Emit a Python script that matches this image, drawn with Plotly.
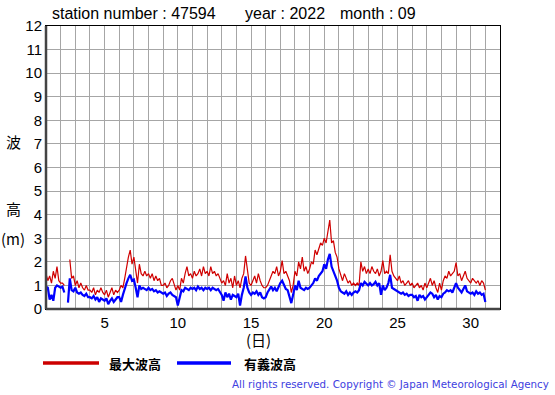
import numpy as np
import plotly.graph_objects as go

nan = float("nan")

# 3-hourly values (hours 0,3,...,21) per day, Sep 1 .. Sep 30, plus end point
max_wave_by_day = [
    [1.5, 1.2, 1.4, 1.1, 1.6, 1.3, 1.8, 1.2],
    [1.1, 1.1, 1.0, nan, nan, 2.1, 1.3, 1.4],
    [1.0, 1.2, 0.9, 1.1, 0.9, 0.8, 1.0, 0.8],
    [0.8, 0.7, 0.9, 0.6, 0.8, 0.7, 0.9, 0.7],
    [0.6, 0.8, 0.5, 0.7, 0.9, 0.6, 0.8, 0.7],
    [0.8, 1.0, 0.9, 1.3, 1.8, 2.2, 2.5, 1.9],
    [2.2, 1.6, 1.1, 1.9, 1.5, 1.4, 1.6, 1.4],
    [1.5, 1.3, 1.5, 1.2, 1.4, 1.2, 1.3, 1.0],
    [1.0, 1.1, 0.9, 1.0, 1.2, 1.3, 1.0, 0.8],
    [1.0, 0.8, 1.3, 1.1, 1.5, 1.8, 1.4, 1.5],
    [1.3, 1.6, 1.4, 1.5, 1.7, 1.4, 1.8, 1.5],
    [1.6, 1.4, 1.8, 1.5, 1.6, 1.4, 1.5, 1.3],
    [1.1, 1.2, 1.0, 1.5, 1.1, 1.3, 0.9, 1.4],
    [1.0, 1.2, 0.9, 1.3, 1.5, 2.25, 1.6, 1.1],
    [1.0, 1.2, 1.4, 1.1, 1.5, 1.2, 1.0, 0.9],
    [0.9, 1.0, 1.2, 1.4, 1.6, 1.5, 1.8, 1.4],
    [1.6, 2.05, 1.5, 1.6, 1.4, 1.2, 0.7, 1.0],
    [1.6, 1.4, 2.0, 1.7, 2.2, 1.6, 1.8, 1.5],
    [1.7, 2.0, 1.9, 2.5, 2.3, 2.6, 2.8, 2.7],
    [3.0, 2.8, 3.35, 3.77, 2.8, 2.9, 2.4, 2.2],
    [1.7, 1.4, 1.2, 1.5, 1.3, 1.1, 1.2, 1.0],
    [1.1, 1.0, 1.1, 1.0, 2.0, 1.6, 1.8, 1.5],
    [1.7, 1.5, 1.8, 1.6, 1.5, 1.7, 1.4, 1.6],
    [2.05, 1.5, 1.6, 1.5, 2.3, 1.6, 1.4, 1.3],
    [1.2, 1.4, 1.1, 1.2, 1.0, 1.1, 1.2, 1.0],
    [1.1, 0.9, 1.0, 1.1, 0.9, 1.0, 0.8, 1.1],
    [0.9, 1.1, 1.3, 1.0, 1.2, 0.9, 0.7, 1.1],
    [0.8, 1.2, 1.4, 1.3, 1.6, 1.4, 1.5, 1.6],
    [1.97, 1.4, 1.5, 1.2, 1.4, 1.6, 1.3, 1.2],
    [1.1, 1.3, 1.2, 1.1, 1.2, 1.0, 1.2, 1.1],
]
max_wave_end = 0.8

sig_wave_by_day = [
    [0.95, 0.9, 0.4, 0.6, 0.35, 0.9, 1.0, 0.95],
    [0.9, 0.95, 0.7, nan, 0.27, 1.3, 0.8, 0.75],
    [0.9, 0.7, 0.65, 0.7, 0.6, 0.55, 0.65, 0.5],
    [0.5, 0.45, 0.55, 0.4, 0.5, 0.3, 0.45, 0.4],
    [0.35, 0.45, 0.2, 0.35, 0.45, 0.3, 0.4, 0.5],
    [0.5, 0.3, 0.6, 0.9, 1.1, 1.3, 1.45, 1.2],
    [1.25, 0.9, 0.5, 1.0, 0.85, 0.9, 0.85, 0.8],
    [0.9, 0.8, 0.85, 0.75, 0.8, 0.7, 0.75, 0.7],
    [0.65, 0.7, 0.55, 0.65, 0.7, 0.6, 0.55, 0.5],
    [0.15, 0.5, 0.8, 0.75, 0.9, 0.85, 0.8, 0.9],
    [0.85, 0.9, 0.8, 0.95, 0.85, 0.9, 0.8, 0.9],
    [0.85, 0.9, 0.8, 0.9, 0.85, 0.8, 0.85, 0.75],
    [0.6, 0.35, 0.7, 0.5, 0.65, 0.4, 0.6, 0.55],
    [0.5, 0.65, 0.15, 0.6, 0.9, 1.38, 0.9, 0.7],
    [0.6, 0.7, 0.65, 0.75, 0.6, 0.7, 0.5, 0.45],
    [0.5, 0.7, 0.8, 0.95, 0.8, 0.9, 0.75, 0.95],
    [1.1, 1.2, 1.0, 0.85, 0.8, 0.5, 0.25, 0.6],
    [1.0, 0.8, 1.2, 0.9, 0.85, 0.8, 0.9, 0.85],
    [0.9, 1.0, 1.1, 1.3, 1.2, 1.4, 1.5, 1.6],
    [1.9, 1.7, 2.1, 2.34, 1.8, 1.6, 1.4, 1.2],
    [0.9, 0.75, 0.7, 0.65, 0.75, 0.6, 0.7, 0.6],
    [0.7, 0.75, 0.7, 0.8, 1.1, 1.0, 1.15, 1.05],
    [1.0, 1.1, 1.0, 1.05, 1.15, 1.0, 1.1, 0.6],
    [1.0, 0.8, 0.9, 1.1, 1.45, 0.9, 0.85, 0.8],
    [0.75, 0.7, 0.65, 0.7, 0.6, 0.65, 0.55, 0.6],
    [0.6, 0.5, 0.55, 0.35, 0.6, 0.5, 0.55, 0.4],
    [0.5, 0.6, 0.7, 0.65, 0.5, 0.6, 0.4, 0.55],
    [0.5, 0.65, 0.7, 0.8, 0.75, 0.8, 0.7, 0.9],
    [1.1, 0.9, 0.8, 0.7, 0.85, 1.0, 0.75, 0.7],
    [0.65, 0.7, 0.6, 0.75, 0.65, 0.7, 0.6, 0.65],
]
sig_wave_end = 0.3

x_tick_vals = [5, 10, 15, 20, 25, 30]
y_tick_vals = list(range(0, 13))

max_wave = [v for day in max_wave_by_day for v in day] + [max_wave_end]
sig_wave = [v for day in sig_wave_by_day for v in day] + [sig_wave_end]
times = [1 + i / 8 for i in range(len(max_wave))]

fig = go.Figure()
fig.add_trace(go.Scatter(x=times, y=max_wave, mode="lines",
                         line=dict(color="#d00000", width=1.2),
                         connectgaps=False, showlegend=False, hoverinfo="skip"))
fig.add_trace(go.Scatter(x=times, y=sig_wave, mode="lines",
                         line=dict(color="#0000ff", width=2.2),
                         connectgaps=False, showlegend=False, hoverinfo="skip"))

font_main = "Liberation Sans, Arial, sans-serif"
grid_c = "#a6a6a6"
fig.update_layout(
    width=555, height=395,
    margin=dict(l=46, r=55, t=26, b=86, autoexpand=False),
    paper_bgcolor="white", plot_bgcolor="white",
    font=dict(family=font_main, size=15, color="black"),
    xaxis=dict(range=[1, 32], tickvals=x_tick_vals, ticktext=[str(v) for v in x_tick_vals],
               showgrid=False, zeroline=False, ticks="",
               minor=dict(dtick=1, tick0=0, showgrid=True, gridcolor=grid_c, gridwidth=1),
               showline=True, linecolor="black", linewidth=1, mirror=True,
               tickfont=dict(size=15)),
    yaxis=dict(range=[0, 12], tickvals=y_tick_vals, ticktext=[str(v) for v in y_tick_vals],
               showgrid=True, gridcolor=grid_c, gridwidth=1, zeroline=False, ticks="",
               showline=True, linecolor="black", linewidth=1, mirror=True,
               tickfont=dict(size=15)),
)

# thicker left/bottom frame lines
fig.add_shape(type="line", xref="paper", yref="paper", x0=0, x1=0, y0=0, y1=1,
              line=dict(color="#444444", width=2.5))
fig.add_shape(type="line", xref="paper", yref="paper", x0=0, x1=1, y0=0, y1=0,
              line=dict(color="#444444", width=2.5))

def px_x(p):
    return (p - 46) / 454

def px_y(p):
    return (309 - p) / 283

cjk = "Noto Sans CJK JP, sans-serif"
ann = []
for txt, xp in [("station number : 47594", 50), ("year : 2022", 243), ("month : 09", 338)]:
    ann.append(dict(text=txt, xref="paper", yref="paper", x=px_x(xp), y=px_y(14),
                    yanchor="middle", xanchor="left", showarrow=False,
                    font=dict(size=16, family=font_main)))
for txt, ypx in [("波", 141), ("高", 208), ("(m)", 238)]:
    ann.append(dict(text=txt, xref="paper", yref="paper",
                    x=px_x(13), y=px_y(ypx), xanchor="center", yanchor="middle",
                    showarrow=False, font=dict(size=15, family=cjk, color="black")))
ann.append(dict(text="(日)", xref="paper", yref="paper", x=px_x(258), y=px_y(340),
                xanchor="center", yanchor="middle", showarrow=False,
                font=dict(size=15, family=cjk, color="black")))
ann.append(dict(text="<b>最大波高</b>", xref="paper", yref="paper", x=px_x(107), y=px_y(363),
                xanchor="left", yanchor="middle", showarrow=False,
                font=dict(size=13, family=cjk, color="black")))
ann.append(dict(text="<b>有義波高</b>", xref="paper", yref="paper", x=px_x(242), y=px_y(363),
                xanchor="left", yanchor="middle", showarrow=False,
                font=dict(size=13, family=cjk, color="black")))
ann.append(dict(text="All rights reserved. Copyright © Japan Meteorological Agency",
                xref="paper", yref="paper", x=px_x(551), y=px_y(384),
                xanchor="right", yanchor="middle", showarrow=False,
                font=dict(size=10.3, family="DejaVu Sans", color="#4040e0")))
fig.update_layout(annotations=ann)

fig.add_shape(type="line", xref="paper", yref="paper",
              x0=px_x(43), x1=px_x(99), y0=px_y(363), y1=px_y(363),
              line=dict(color="#cc0000", width=3.5))
fig.add_shape(type="line", xref="paper", yref="paper",
              x0=px_x(177), x1=px_x(231), y0=px_y(363), y1=px_y(363),
              line=dict(color="#0000ff", width=3.5))

fig.write_html("out.html", config={"displayModeBar": False, "staticPlot": True},
               post_script="document.body.style.margin='0';document.body.style.padding='0';")
